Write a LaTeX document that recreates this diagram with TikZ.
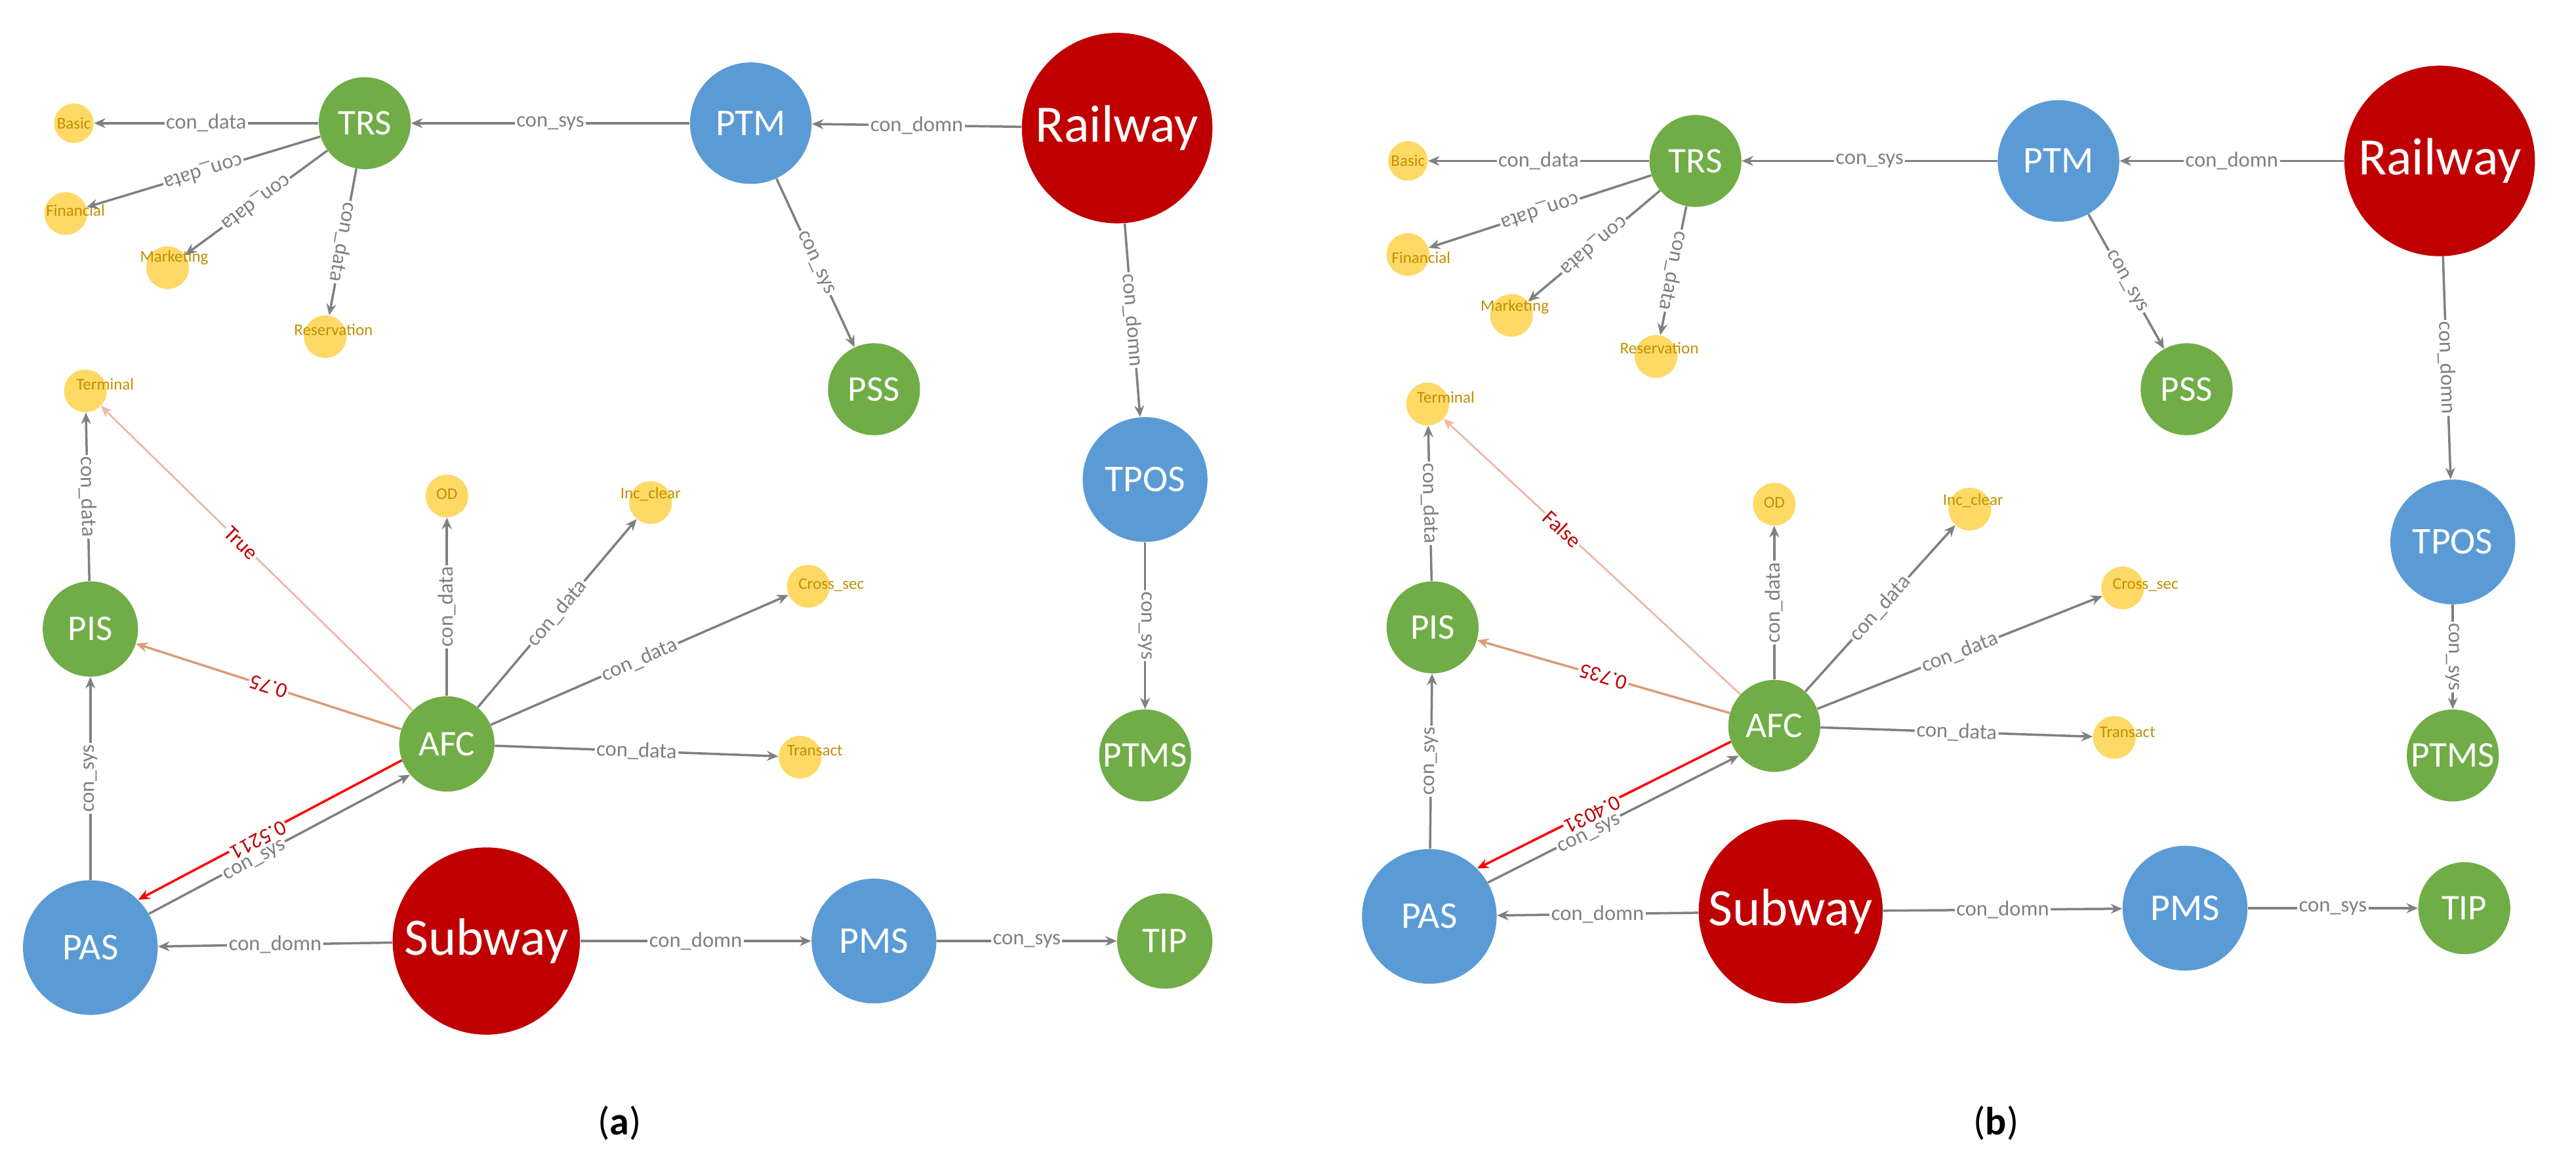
\documentclass[tikz,border=0pt]{standalone}
\usepackage{fontspec}
\setmainfont{Carlito}
\usetikzlibrary{arrows.meta}
\definecolor{nblue}{HTML}{5B9BD5}
\definecolor{ngreen}{HTML}{70AD47}
\definecolor{nred}{HTML}{C00000}
\definecolor{nyel}{HTML}{FFD966}
\definecolor{ytext}{HTML}{BF9000}
\definecolor{egray}{HTML}{808080}
\definecolor{eorange}{HTML}{DC9B78}
\definecolor{elight}{HTML}{EDB7A6}
\tikzset{
 nd/.style={circle,inner sep=0pt,text=white},
 blue/.style={nd,fill=nblue,font=\fontsize{23}{23}\selectfont},
 green/.style={nd,fill=ngreen,font=\fontsize{22}{22}\selectfont},
 big/.style={nd,fill=nred,font=\fontsize{32}{32}\selectfont},
 yel/.style={nd,fill=nyel,minimum size=26pt},
 yt/.style={text=ytext,inner sep=0pt,font=\fontsize{10}{10}\selectfont},
 e/.style={draw=egray,line width=1.4pt,-{Stealth[length=7pt,width=6pt]}},
 lb/.style={fill=white,inner sep=1pt,text=egray,font=\fontsize{13}{13}\selectfont},
 rl/.style={fill=white,inner sep=1pt,text=nred,font=\fontsize{13}{13}\selectfont},
}
\begin{document}
\begin{tikzpicture}[x=1pt,y=-1pt]
\useasboundingbox (0,0) rectangle (1568,706);
% ---------- panel a
\node[big,minimum size=116pt] (Ra) at (680,78) {Railway};
\node[blue,minimum size=74pt] (PTMa) at (457,75) {PTM};
\node[green,minimum size=56pt] (TRSa) at (222,75) {TRS};
\node[yel,minimum size=24pt] (Basa) at (45,75) {};
\node[yt] at (45,75) {Basic};
\node[yel] (Fina) at (40,130) {};
\node[yt] at (46,128) {Financial};
\node[yel] (Mara) at (102,163) {};
\node[yt] at (106,157) {Marketing};
\node[yel] (Resa) at (198,205) {};
\node[yt] at (203,201) {Reservation};
\node[green,minimum size=56pt] (PSSa) at (532,237) {PSS};
\node[blue,minimum size=76pt] (TPOSa) at (697,292) {TPOS};
\node[green,minimum size=56pt] (PTMSa) at (697,460) {PTMS};
\node[yel] (Tera) at (52,238) {};
\node[yt] at (64,234) {Terminal};
\node[yel] (ODa) at (272,302) {};
\node[yt] at (272,301) {OD};
\node[yel] (Inca) at (396,306) {};
\node[yt] at (396,301) {Inc\_clear};
\node[yel] (Crsa) at (492,357) {};
\node[yt] at (506,356) {Cross\_sec};
\node[yel] (Tra) at (487,461) {};
\node[yt] at (496,457) {Transact};
\node[green,minimum size=58pt] (PISa) at (55,383) {PIS};
\node[green,minimum size=58pt] (AFCa) at (272,453) {AFC};
\node[blue,minimum size=82pt] (PASa) at (55,577) {PAS};
\node[big,minimum size=114pt] (Sa) at (296,573) {Subway};
\node[blue,minimum size=76pt] (PMSa) at (532,573) {PMS};
\node[green,minimum size=58pt] (TIPa) at (709,573) {TIP};
% edges a
\draw[e] (Ra) -- node[lb]{con\_domn} (PTMa);
\draw[e] (PTMa) -- node[lb]{con\_sys} (TRSa);
\draw[e] (TRSa) -- node[lb]{con\_data} (Basa);
\draw[e] (TRSa) -- node[lb,sloped,allow upside down]{con\_data} (Fina);
\draw[e] (TRSa) -- node[lb,sloped,allow upside down]{con\_data} (Mara);
\draw[e] (TRSa) -- node[lb,sloped,allow upside down]{con\_data} (Resa);
\draw[e] (PTMa) -- node[lb,sloped,allow upside down]{con\_sys} (PSSa);
\draw[e] (Ra) -- node[lb,sloped,allow upside down]{con\_domn} (TPOSa);
\draw[e] (TPOSa) -- node[lb,sloped,allow upside down]{con\_sys} (PTMSa);
\draw[e] (PISa) -- node[lb,sloped]{con\_data} (Tera);
\draw[e] (PASa) -- node[lb,sloped]{con\_sys} (PISa);
\draw[e] (AFCa) -- node[lb,sloped]{con\_data} (ODa);
\draw[e] (AFCa) -- node[lb,sloped]{con\_data} (Inca);
\draw[e] (AFCa) -- node[lb,sloped]{con\_data} (Crsa);
\draw[e] (AFCa) -- node[lb,sloped]{con\_data} (Tra);
\draw[e,draw=elight,line width=1.1pt] (AFCa) -- node[rl,sloped,pos=0.55]{True} (Tera);
\draw[e,draw=eorange] (AFCa) -- node[rl,sloped,allow upside down]{0.75} (PISa);
\draw[e,draw=red] (AFCa.200) -- node[rl,sloped,allow upside down,pos=0.55,yshift=2pt]{0.5211} (PASa.45);
\draw[e] (PASa.30) -- node[lb,sloped,pos=0.4,yshift=-2pt]{con\_sys} (AFCa.220);
\draw[e] (Sa) -- node[lb]{con\_domn} (PASa);
\draw[e] (Sa) -- node[lb]{con\_domn} (PMSa);
\draw[e] (PMSa) -- node[lb]{con\_sys} (TIPa);
\node[font=\fontsize{24}{24}\selectfont] (capa) at (377,684) {(\textbf{a})};
% ---------- panel b
\node[big,minimum size=116pt] (Rb) at (1485,98) {Railway};
\node[blue,minimum size=74pt] (PTMb) at (1253,98) {PTM};
\node[green,minimum size=56pt] (TRSb) at (1032,98) {TRS};
\node[yel,minimum size=24pt] (Basb) at (857,98) {};
\node[yt] at (857,98) {Basic};
\node[yel] (Finb) at (857,155) {};
\node[yt] at (865,157) {Financial};
\node[yel] (Marb) at (920,192) {};
\node[yt] at (922,187) {Marketing};
\node[yel] (Resb) at (1008,217) {};
\node[yt] at (1010,212) {Reservation};
\node[green,minimum size=56pt] (PSSb) at (1331,237) {PSS};
\node[blue,minimum size=76pt] (TPOSb) at (1493,330) {TPOS};
\node[green,minimum size=56pt] (PTMSb) at (1493,460) {PTMS};
\node[yel] (Terb) at (869,246) {};
\node[yt] at (880,242) {Terminal};
\node[yel] (ODb) at (1080,307) {};
\node[yt] at (1080,306) {OD};
\node[yel] (Incb) at (1199,310) {};
\node[yt] at (1201,305) {Inc\_clear};
\node[yel] (Crsb) at (1292,358) {};
\node[yt] at (1306,356) {Cross\_sec};
\node[yel] (Trb) at (1287,449) {};
\node[yt] at (1295,446) {Transact};
\node[green,minimum size=56pt] (PISb) at (872,382) {PIS};
\node[green,minimum size=56pt] (AFCb) at (1080,442) {AFC};
\node[blue,minimum size=82pt] (PASb) at (870,558) {PAS};
\node[big,minimum size=112pt] (Sb) at (1090,555) {Subway};
\node[blue,minimum size=76pt] (PMSb) at (1330,553) {PMS};
\node[green,minimum size=56pt] (TIPb) at (1500,553) {TIP};
% edges b
\draw[e] (Rb) -- node[lb]{con\_domn} (PTMb);
\draw[e] (PTMb) -- node[lb]{con\_sys} (TRSb);
\draw[e] (TRSb) -- node[lb]{con\_data} (Basb);
\draw[e] (TRSb) -- node[lb,sloped,allow upside down]{con\_data} (Finb);
\draw[e] (TRSb) -- node[lb,sloped,allow upside down]{con\_data} (Marb);
\draw[e] (TRSb) -- node[lb,sloped,allow upside down]{con\_data} (Resb);
\draw[e] (PTMb) -- node[lb,sloped,allow upside down]{con\_sys} (PSSb);
\draw[e] (Rb) -- node[lb,sloped,allow upside down]{con\_domn} (TPOSb);
\draw[e] (TPOSb) -- node[lb,sloped,allow upside down]{con\_sys} (PTMSb);
\draw[e] (PISb) -- node[lb,sloped]{con\_data} (Terb);
\draw[e] (PASb) -- node[lb,sloped]{con\_sys} (PISb);
\draw[e] (AFCb) -- node[lb,sloped]{con\_data} (ODb);
\draw[e] (AFCb) -- node[lb,sloped]{con\_data} (Incb);
\draw[e] (AFCb) -- node[lb,sloped]{con\_data} (Crsb);
\draw[e] (AFCb) -- node[lb,sloped]{con\_data} (Trb);
\draw[e,draw=elight,line width=1.1pt] (AFCb) -- node[rl,sloped,pos=0.6]{False} (Terb);
\draw[e,draw=eorange] (AFCb) -- node[rl,sloped,allow upside down]{0.735} (PISb);
\draw[e,draw=red] (AFCb.200) -- node[rl,sloped,allow upside down,pos=0.55,yshift=2pt]{0.4031} (PASb.45);
\draw[e] (PASb.30) -- node[lb,sloped,pos=0.4,yshift=-2pt]{con\_sys} (AFCb.220);
\draw[e] (Sb) -- node[lb]{con\_domn} (PASb);
\draw[e] (Sb) -- node[lb]{con\_domn} (PMSb);
\draw[e] (PMSb) -- node[lb]{con\_sys} (TIPb);
\node[font=\fontsize{24}{24}\selectfont] (capb) at (1215,684) {(\textbf{b})};
\end{tikzpicture}
\end{document}
